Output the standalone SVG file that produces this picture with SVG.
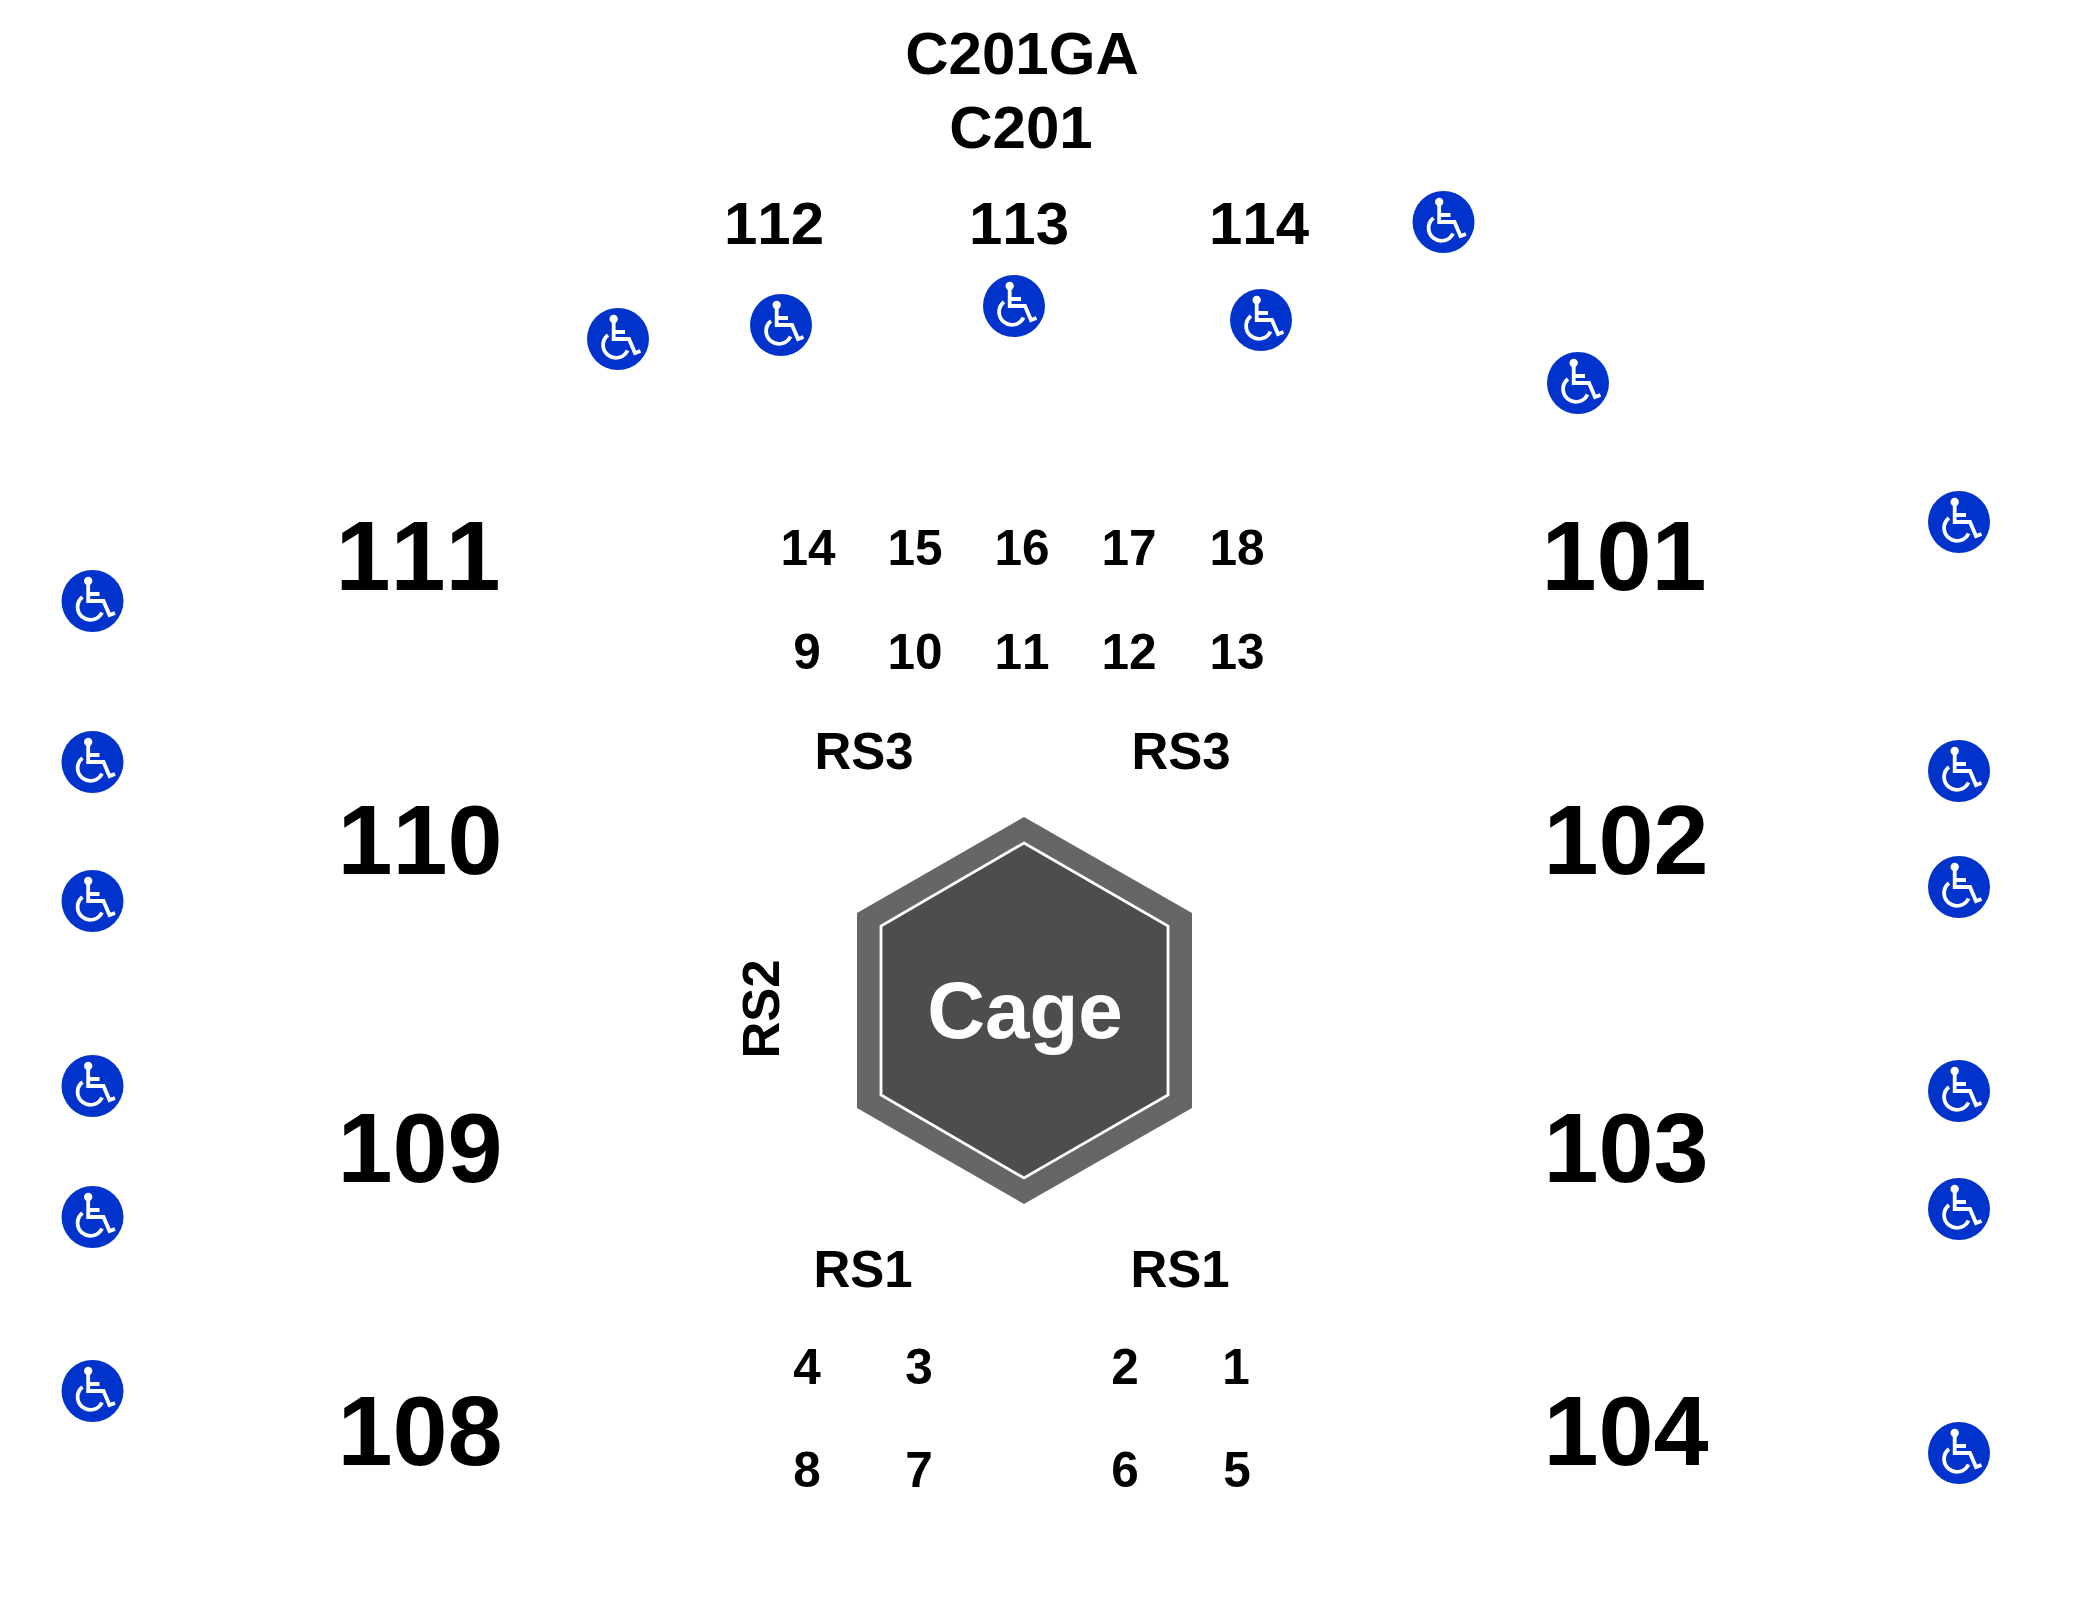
<svg xmlns="http://www.w3.org/2000/svg" width="2100" height="1600" viewBox="0 0 2100 1600">
<style>
text{font-family:"Liberation Sans",Arial,sans-serif;font-weight:700;fill:#000;text-anchor:middle;font-kerning:none}
.xl{font-size:99px}.md{font-size:60px}.sm{font-size:49.5px}.rs{font-size:51px}
.cg{font-size:80px;fill:#fff}
.wc-line{fill:none;stroke:#fff;stroke-width:3.8}
</style>
<defs>
<g id="wc">
<circle r="31" fill="#0033cc"/>
<circle cx="-4.300" cy="-20" r="4.200" fill="#fff"/>
<path class="wc-line" d="M-4.300-17V0H11L17 14L22.500 12M-4.300-7H7M-10-4A12.800 12.800 0 1 0 9.500 11.500"/>
</g>
</defs>
<rect width="2100" height="1600" fill="#fff"/>
<g id="connectors"/>
<g id="cage">
<polygon points="1024,817 1192,913 1192,1108 1024,1204 857,1108 857,913" fill="#666"/>
<polygon points="1024,843 1168,926 1168,1095 1024,1178 881,1095 881,926" fill="#4d4d4d" stroke="#fff" stroke-width="2.8"/>
<text class="cg" x="1025" y="1038">Cage</text>
</g>
<g id="sec-c201ga"><text class="md" x="1022" y="74">C201GA</text></g>
<g id="sec-c201"><text class="md" x="1021" y="148">C201</text></g>
<g id="sec-112"><text class="md" x="774" y="244">112</text></g>
<g id="sec-113"><text class="md" x="1019" y="244">113</text></g>
<g id="sec-114"><text class="md" x="1259" y="244">114</text></g>
<g id="sec-111"><text class="xl" x="418" y="590">111</text></g>
<g id="sec-110"><text class="xl" x="420" y="874">110</text></g>
<g id="sec-109"><text class="xl" x="420" y="1182">109</text></g>
<g id="sec-108"><text class="xl" x="420" y="1465">108</text></g>
<g id="sec-101"><text class="xl" x="1624" y="590">101</text></g>
<g id="sec-102"><text class="xl" x="1626" y="874">102</text></g>
<g id="sec-103"><text class="xl" x="1626" y="1182">103</text></g>
<g id="sec-104"><text class="xl" x="1626" y="1465">104</text></g>
<g id="sec-14"><text class="sm" x="808" y="565">14</text></g>
<g id="sec-15"><text class="sm" x="915" y="565">15</text></g>
<g id="sec-16"><text class="sm" x="1022" y="565">16</text></g>
<g id="sec-17"><text class="sm" x="1129" y="565">17</text></g>
<g id="sec-18"><text class="sm" x="1237" y="565">18</text></g>
<g id="sec-9"><text class="sm" x="807" y="669">9</text></g>
<g id="sec-10"><text class="sm" x="915" y="669">10</text></g>
<g id="sec-11"><text class="sm" x="1022" y="669">11</text></g>
<g id="sec-12"><text class="sm" x="1129" y="669">12</text></g>
<g id="sec-13"><text class="sm" x="1237" y="669">13</text></g>
<g id="sec-rs3-l"><text class="rs" x="864" y="769">RS3</text></g>
<g id="sec-rs3-r"><text class="rs" x="1181" y="769">RS3</text></g>
<g id="sec-rs2"><text class="rs" transform="translate(779 1009) rotate(-90)">RS2</text></g>
<g id="sec-rs1-l"><text class="rs" x="863" y="1287">RS1</text></g>
<g id="sec-rs1-r"><text class="rs" x="1180" y="1287">RS1</text></g>
<g id="sec-4"><text class="sm" x="807" y="1384">4</text></g>
<g id="sec-3"><text class="sm" x="919" y="1384">3</text></g>
<g id="sec-2"><text class="sm" x="1125" y="1384">2</text></g>
<g id="sec-1"><text class="sm" x="1236" y="1384">1</text></g>
<g id="sec-8"><text class="sm" x="807" y="1487">8</text></g>
<g id="sec-7"><text class="sm" x="919" y="1487">7</text></g>
<g id="sec-6"><text class="sm" x="1125" y="1487">6</text></g>
<g id="sec-5"><text class="sm" x="1237" y="1487">5</text></g>
<g id="wc-1"><use href="#wc" x="618" y="339"/></g>
<g id="wc-2"><use href="#wc" x="781" y="325"/></g>
<g id="wc-3"><use href="#wc" x="1014" y="306"/></g>
<g id="wc-4"><use href="#wc" x="1261" y="320"/></g>
<g id="wc-5"><use href="#wc" x="1443.500" y="222"/></g>
<g id="wc-6"><use href="#wc" x="1578" y="383"/></g>
<g id="wc-7"><use href="#wc" x="1959" y="522"/></g>
<g id="wc-8"><use href="#wc" x="1959" y="771"/></g>
<g id="wc-9"><use href="#wc" x="1959" y="887"/></g>
<g id="wc-10"><use href="#wc" x="1959" y="1091"/></g>
<g id="wc-11"><use href="#wc" x="1959" y="1209"/></g>
<g id="wc-12"><use href="#wc" x="1959" y="1453"/></g>
<g id="wc-13"><use href="#wc" x="92.500" y="601"/></g>
<g id="wc-14"><use href="#wc" x="92.500" y="762"/></g>
<g id="wc-15"><use href="#wc" x="92.500" y="901"/></g>
<g id="wc-16"><use href="#wc" x="92.500" y="1086"/></g>
<g id="wc-17"><use href="#wc" x="92.500" y="1217"/></g>
<g id="wc-18"><use href="#wc" x="92.500" y="1391"/></g>
</svg>
